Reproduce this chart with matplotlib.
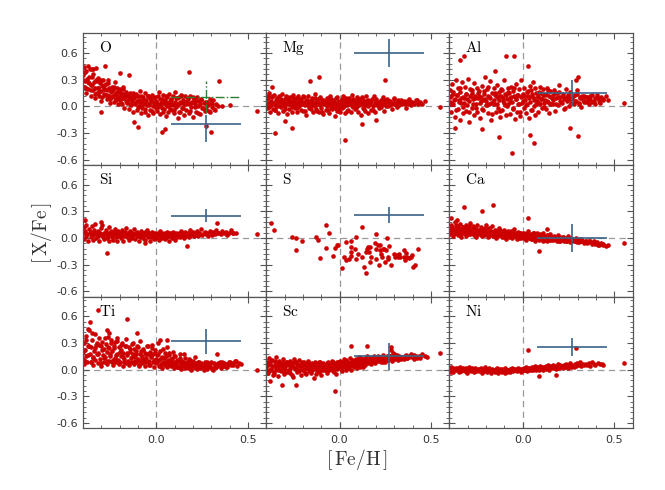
import numpy as np
import matplotlib
matplotlib.use('Agg')
import matplotlib.pyplot as plt
from matplotlib.ticker import MultipleLocator, FormatStrFormatter

plt.rcParams['mathtext.fontset'] = 'cm'
plt.rcParams['font.family'] = 'DejaVu Sans'

nan = float('nan')

# [Fe/H] of the common sample of stars
feh = [
    -0.399, -0.396, -0.392, -0.389, -0.385, -0.381, -0.378, -0.372, -0.368, -0.363,
    -0.359, -0.356, -0.351, -0.348, -0.344, -0.341, -0.337, -0.333, -0.328, -0.324,
    -0.319, -0.316, -0.312, -0.307, -0.304, -0.300, -0.296, -0.293, -0.288, -0.284,
    -0.279, -0.276, -0.271, -0.268, -0.264, -0.259, -0.256, -0.252, -0.247, -0.243,
    -0.239, -0.236, -0.232, -0.227, -0.224, -0.219, -0.216, -0.212, -0.208, -0.203,
    -0.199, -0.195, -0.192, -0.187, -0.184, -0.179, -0.176, -0.171, -0.168, -0.163,
    -0.159, -0.156, -0.151, -0.148, -0.143, -0.140, -0.135, -0.132, -0.127, -0.123,
    -0.119, -0.115, -0.112, -0.107, -0.104, -0.099, -0.096, -0.091, -0.088, -0.083,
    -0.079, -0.076, -0.071, -0.068, -0.063, -0.060, -0.055, -0.052, -0.047, -0.043,
    -0.039, -0.035, -0.032, -0.027, -0.024, -0.019, -0.016, -0.011, -0.008, -0.003,
    0.001, 0.005, 0.008, 0.013, 0.016, 0.021, 0.024, 0.029, 0.032, 0.037,
    0.041, 0.045, 0.048, 0.053, 0.056, 0.061, 0.064, 0.069, 0.072, 0.077,
    0.081, 0.085, 0.088, 0.093, 0.096, 0.101, 0.104, 0.109, 0.112, 0.117,
    0.121, 0.125, 0.129, 0.133, 0.137, 0.141, 0.145, 0.149, 0.153, 0.157,
    0.162, 0.167, 0.171, 0.176, 0.181, 0.186, 0.191, 0.196, 0.201, 0.206,
    0.212, 0.218, 0.224, 0.229, 0.235, 0.241, 0.246, 0.252, 0.258, 0.264,
    0.271, 0.278, 0.284, 0.291, 0.298, 0.305, 0.312, 0.319, 0.327, 0.335,
    0.343, 0.352, 0.361, 0.369, 0.378, 0.388, 0.397, 0.408, 0.421, 0.436,
]

# second group of stars
feh2 = [
    -0.398, -0.390, -0.383, -0.375, -0.366, -0.358, -0.350, -0.343, -0.335, -0.326,
    -0.318, -0.310, -0.302, -0.295, -0.286, -0.278, -0.270, -0.262, -0.254, -0.245,
    -0.238, -0.230, -0.222, -0.214, -0.206, -0.197, -0.190, -0.182, -0.174, -0.166,
    -0.158, -0.150, -0.142, -0.134, -0.126, -0.118, -0.110, -0.102, -0.094, -0.086,
    -0.078, -0.070, -0.062, -0.054, -0.046, -0.038, -0.030, -0.022, -0.014, -0.006,
    0.003, 0.011, 0.019, 0.027, 0.035, 0.043, 0.051, 0.059, 0.067, 0.075,
    0.083, 0.091, 0.099, 0.107, 0.115, 0.123, 0.131, 0.139, 0.147, 0.155,
    0.164, 0.173, 0.182, 0.191, 0.200, 0.209, 0.218, 0.227, 0.236, 0.245,
    0.255, 0.265, 0.275, 0.285, 0.295, 0.305, 0.315, 0.325, 0.336, 0.347,
    0.358, 0.369, 0.380, 0.392, 0.404, 0.416, 0.428, 0.440, 0.452, 0.465,
]

o_fe = [
    0.35, 0.22, 0.44, 0.28, 0.15, 0.40, 0.31, 0.19, 0.26, 0.42,
    0.24, 0.12, 0.33, 0.18, 0.42, 0.27, 0.09, 0.21, 0.30, 0.15,
    0.20, 0.32, 0.11, 0.26, 0.17, 0.06, 0.23, 0.29, 0.14, 0.19,
    0.13, 0.25, 0.08, 0.18, 0.30, 0.11, 0.21, 0.04, 0.16, 0.22,
    0.10, 0.18, 0.05, 0.27, 0.14, 0.08, 0.20, 0.12, 0.02, 0.16,
    0.07, 0.15, 0.11, 0.02, 0.19, 0.09, -0.02, 0.13, 0.06, 0.16,
    0.04, 0.12, -0.03, 0.08, 0.15, 0.01, 0.10, 0.06, -0.06, 0.13,
    0.09, 0.02, 0.14, -0.04, 0.06, 0.11, 0.00, 0.17, 0.04, -0.08,
    0.05, -0.02, 0.10, 0.03, 0.15, -0.06, 0.07, 0.01, 0.12, -0.10,
    0.02, 0.09, -0.04, 0.06, 0.13, 0.00, -0.08, 0.04, 0.10, -0.02,
    0.06, -0.05, 0.11, 0.01, 0.16, -0.09, 0.04, 0.08, -0.02, 0.13,
    -0.03, 0.07, 0.02, -0.11, 0.10, 0.04, -0.06, 0.14, 0.00, 0.05,
    0.08, -0.04, 0.03, 0.12, -0.08, 0.05, 0.16, -0.01, 0.09, -0.13,
    0.01, 0.10, -0.06, 0.04, 0.13, -0.02, 0.07, -0.10, 0.03, 0.11,
    -0.04, 0.06, 0.09, -0.08, 0.02, 0.12, -0.01, 0.05, -0.12, 0.08,
    0.03, -0.06, 0.10, 0.00, 0.06, -0.09, 0.08, -0.02, 0.04, -0.05,
    -0.03, 0.05, 0.01, -0.07, 0.04, -0.01, 0.07, -0.04, 0.02, 0.00,
    nan, nan, nan, nan, nan, nan, nan, nan, nan, nan,
]
o_fe2 = [
    0.30, 0.38, 0.20, 0.27, 0.33, 0.18, 0.24, 0.36, 0.14, 0.28,
    0.21, 0.16, 0.29, 0.10, 0.24, 0.19, 0.13, 0.26, 0.08, 0.17,
    0.12, 0.22, 0.07, 0.16, 0.10, 0.19, 0.04, 0.14, 0.09, 0.12,
    0.06, 0.13, 0.02, 0.09, 0.15, 0.04, 0.11, -0.01, 0.07, 0.12,
    0.03, 0.08, -0.03, 0.05, 0.11, 0.01, 0.06, -0.05, 0.09, 0.02,
    0.04, -0.01, 0.08, 0.02, -0.06, 0.06, 0.11, 0.00, 0.05, -0.03,
    0.07, 0.01, -0.04, 0.09, 0.03, -0.07, 0.05, 0.12, -0.02, 0.04,
    0.02, 0.08, -0.05, 0.04, 0.10, -0.01, 0.06, -0.08, 0.03, 0.07,
    -0.02, 0.05, 0.01, -0.05, 0.08, 0.02, -0.03, nan, nan, nan,
    nan, nan, nan, nan, nan, nan, nan, nan, nan, nan,
]

mg_fe = [
    0.08, -0.02, 0.12, 0.03, 0.15, -0.06, 0.05, 0.01, 0.10, -0.03,
    0.04, 0.13, -0.04, 0.07, 0.00, 0.09, -0.08, 0.02, 0.11, 0.05,
    -0.01, 0.06, 0.14, -0.05, 0.03, 0.08, 0.00, 0.12, -0.09, 0.04,
    0.07, -0.03, 0.02, 0.10, 0.05, -0.06, 0.13, 0.01, 0.06, -0.02,
    0.03, 0.09, -0.07, 0.04, 0.11, 0.00, 0.06, -0.04, 0.08, 0.02,
    -0.05, 0.05, 0.10, 0.01, -0.10, 0.07, 0.03, 0.12, -0.02, 0.04,
    0.06, -0.03, 0.02, 0.09, -0.07, 0.04, 0.14, 0.00, 0.05, -0.05,
    0.03, 0.08, -0.06, 0.01, 0.10, -0.02, 0.05, 0.07, -0.09, 0.02,
    0.04, -0.04, 0.09, 0.00, 0.06, -0.08, 0.03, 0.11, -0.01, 0.05,
    -0.03, 0.07, 0.02, -0.11, 0.04, 0.09, -0.05, 0.01, 0.06, -0.02,
    0.05, -0.06, 0.03, 0.08, -0.02, 0.12, 0.00, -0.08, 0.04, 0.07,
    0.01, 0.06, -0.04, 0.09, 0.03, -0.07, 0.05, 0.13, -0.01, 0.02,
    0.07, -0.03, 0.04, 0.00, 0.10, -0.06, 0.02, 0.08, 0.05, -0.10,
    0.03, 0.09, -0.02, 0.06, 0.01, -0.05, 0.11, 0.04, -0.08, 0.07,
    0.02, 0.05, -0.04, 0.08, 0.00, 0.12, 0.03, -0.06, 0.06, 0.01,
    0.04, -0.02, 0.07, 0.02, 0.10, -0.05, 0.05, 0.00, 0.08, 0.03,
    0.06, 0.01, -0.03, 0.04, 0.09, 0.02, -0.01, 0.07, 0.03, 0.05,
    0.02, 0.06, -0.02, 0.04, 0.08, 0.01, 0.05, 0.03, 0.07, 0.04,
]
mg_fe2 = [
    0.03, 0.09, -0.01, 0.06, 0.11, 0.02, -0.04, 0.07, 0.00, 0.04,
    0.08, 0.01, 0.05, -0.03, 0.10, 0.03, 0.06, -0.01, 0.09, 0.02,
    0.05, -0.02, 0.08, 0.02, 0.04, 0.11, -0.05, 0.06, 0.01, 0.03,
    0.00, 0.07, 0.03, 0.09, -0.03, 0.05, 0.02, 0.08, -0.06, 0.04,
    0.06, 0.01, -0.04, 0.03, 0.08, 0.00, 0.05, -0.02, 0.10, 0.02,
    0.03, 0.07, -0.01, 0.04, 0.09, -0.05, 0.02, 0.06, 0.00, 0.08,
    0.04, -0.02, 0.07, 0.01, 0.05, 0.10, -0.03, 0.03, 0.06, 0.00,
    0.02, 0.06, -0.04, 0.04, 0.08, 0.01, 0.05, -0.01, 0.03, 0.07,
    0.04, 0.00, 0.06, 0.02, 0.08, 0.03, 0.05, 0.01, 0.07, 0.04,
    0.03, 0.06, 0.02, 0.05, 0.04, 0.07, 0.03, 0.05, 0.02, 0.06,
]

al_fe = [
    0.05, 0.18, -0.06, 0.11, 0.25, 0.02, 0.14, -0.12, 0.08, 0.30,
    0.13, -0.03, 0.21, 0.07, -0.15, 0.16, 0.04, 0.27, 0.10, -0.08,
    0.09, 0.22, -0.05, 0.14, 0.01, 0.31, 0.06, -0.18, 0.19, 0.11,
    -0.02, 0.15, 0.08, 0.26, -0.10, 0.12, 0.03, 0.20, -0.06, 0.09,
    0.17, 0.04, -0.13, 0.10, 0.23, 0.07, -0.04, 0.14, 0.33, 0.01,
    0.06, 0.19, -0.08, 0.12, 0.02, 0.28, 0.09, -0.16, 0.15, 0.05,
    0.21, 0.03, 0.13, -0.07, 0.10, 0.24, -0.02, 0.16, 0.07, -0.12,
    0.11, -0.04, 0.18, 0.06, 0.29, 0.01, 0.14, -0.10, 0.08, 0.20,
    0.02, 0.15, -0.09, 0.09, 0.22, 0.05, -0.03, 0.17, 0.12, -0.14,
    0.08, 0.25, -0.06, 0.13, 0.03, 0.19, -0.11, 0.10, 0.30, 0.04,
    0.14, -0.02, 0.21, 0.07, -0.08, 0.16, 0.02, 0.11, -0.13, 0.23,
    0.05, 0.18, -0.04, 0.12, 0.27, 0.00, 0.09, -0.10, 0.15, 0.06,
    0.10, -0.06, 0.16, 0.03, 0.22, 0.08, -0.02, 0.13, 0.19, 0.04,
    0.07, 0.14, -0.03, 0.20, 0.05, 0.11, -0.08, 0.17, 0.02, 0.09,
    0.12, 0.03, 0.18, -0.05, 0.09, 0.15, 0.01, 0.24, 0.06, 0.10,
    0.04, 0.14, 0.08, -0.02, 0.19, 0.06, 0.11, 0.00, 0.16, 0.08,
    0.09, 0.02, 0.13, 0.06, 0.18, 0.04, 0.10, -0.01, 0.07, 0.12,
    0.05, 0.10, 0.03, 0.08, 0.13, 0.06, 0.02, 0.09, 0.04, 0.07,
]
al_fe2 = [
    0.10, 0.02, 0.16, 0.07, -0.04, 0.13, 0.05, 0.20, 0.09, -0.01,
    0.04, 0.14, 0.08, -0.07, 0.11, 0.18, 0.03, 0.09, -0.02, 0.15,
    0.12, 0.06, -0.03, 0.17, 0.08, 0.01, 0.22, 0.10, 0.04, -0.09,
    0.07, 0.15, 0.02, 0.11, -0.05, 0.19, 0.09, 0.04, 0.13, 0.00,
    0.16, 0.05, 0.10, -0.02, 0.21, 0.08, 0.13, 0.03, -0.07, 0.11,
    0.06, 0.12, 0.01, 0.17, 0.09, -0.04, 0.14, 0.07, 0.20, 0.03,
    0.11, 0.04, 0.15, 0.08, -0.01, 0.13, 0.06, 0.18, 0.02, 0.10,
    0.07, 0.14, 0.03, 0.10, 0.16, 0.05, 0.12, -0.03, 0.09, 0.13,
    0.08, 0.04, 0.11, 0.06, 0.14, 0.02, 0.09, 0.12, 0.05, 0.10,
    0.07, 0.11, 0.05, 0.09, 0.13, 0.06, 0.10, 0.08, 0.12, 0.07,
]

si_fe = [
    0.05, 0.12, -0.01, 0.08, 0.02, 0.15, 0.04, -0.03, 0.10, 0.06,
    0.01, 0.07, 0.13, 0.03, -0.02, 0.09, 0.05, 0.16, 0.00, 0.04,
    0.08, 0.02, -0.04, 0.06, 0.11, 0.03, 0.14, 0.01, 0.05, -0.01,
    0.04, 0.09, 0.00, 0.06, 0.02, 0.12, -0.03, 0.05, 0.08, 0.01,
    0.03, -0.02, 0.07, 0.04, 0.10, 0.01, 0.05, -0.04, 0.08, 0.02,
    0.06, 0.00, 0.03, 0.09, -0.03, 0.05, 0.02, 0.07, 0.04, 0.11,
    0.01, 0.05, -0.02, 0.04, 0.08, 0.02, 0.06, 0.00, 0.03, 0.10,
    0.04, -0.01, 0.06, 0.02, 0.07, 0.03, -0.04, 0.05, 0.01, 0.08,
    0.02, 0.06, 0.00, 0.04, -0.02, 0.07, 0.03, 0.09, 0.01, 0.05,
    0.03, -0.03, 0.05, 0.01, 0.07, 0.02, 0.04, -0.01, 0.06, 0.00,
    0.04, 0.01, 0.06, -0.02, 0.03, 0.08, 0.02, 0.05, 0.00, 0.03,
    0.02, 0.05, -0.01, 0.04, 0.07, 0.01, 0.03, 0.06, -0.03, 0.02,
    0.05, 0.00, 0.03, 0.07, 0.02, 0.04, -0.02, 0.06, 0.01, 0.03,
    0.03, 0.06, 0.01, 0.04, 0.08, 0.02, 0.05, 0.00, 0.03, 0.07,
    0.04, 0.02, 0.06, 0.01, 0.05, 0.09, 0.03, 0.04, 0.07, 0.02,
    0.05, 0.03, 0.08, 0.02, 0.06, 0.04, 0.10, 0.03, 0.05, 0.07,
    0.04, 0.06, 0.02, 0.08, 0.05, 0.03, 0.07, 0.04, 0.09, 0.05,
    0.06, 0.04, 0.08, 0.05, 0.07, 0.03, 0.06, 0.09, 0.05, 0.06,
]

ca_fe = [
    0.10, 0.04, 0.15, 0.07, 0.12, 0.02, 0.09, 0.18, 0.05, 0.11,
    0.08, 0.13, 0.03, 0.10, 0.06, 0.16, 0.01, 0.09, 0.12, 0.05,
    0.11, 0.06, 0.14, 0.02, 0.08, 0.12, 0.04, 0.10, 0.17, 0.07,
    0.05, 0.09, 0.13, 0.03, 0.07, 0.11, 0.01, 0.08, 0.15, 0.06,
    0.09, 0.04, 0.07, 0.12, 0.02, 0.06, 0.10, 0.03, 0.08, 0.14,
    0.05, 0.08, 0.01, 0.06, 0.11, 0.03, 0.07, 0.04, 0.13, 0.02,
    0.06, 0.03, 0.09, 0.00, 0.05, 0.08, 0.02, 0.11, 0.04, 0.06,
    0.03, 0.07, 0.01, 0.05, 0.09, 0.02, 0.06, -0.01, 0.04, 0.08,
    0.04, 0.01, 0.06, 0.03, 0.08, 0.00, 0.05, 0.02, 0.10, 0.03,
    0.02, 0.05, -0.01, 0.03, 0.07, 0.01, 0.04, 0.00, 0.06, 0.02,
    0.03, 0.00, 0.05, 0.01, -0.02, 0.04, 0.02, 0.08, 0.00, 0.03,
    0.01, 0.04, -0.01, 0.02, 0.06, 0.00, 0.03, -0.03, 0.01, 0.05,
    0.00, 0.03, -0.02, 0.01, 0.04, -0.01, 0.02, -0.03, 0.05, 0.00,
    -0.01, 0.02, 0.00, -0.03, 0.03, 0.01, -0.02, 0.04, 0.00, -0.01,
    0.01, -0.02, 0.02, -0.01, 0.00, -0.04, 0.03, -0.02, 0.01, -0.03,
    -0.02, 0.01, -0.03, 0.00, -0.01, -0.04, 0.02, -0.02, -0.05, 0.00,
    -0.03, -0.01, -0.04, 0.00, -0.02, -0.05, -0.03, -0.01, -0.04, -0.06,
    -0.04, -0.06, -0.03, -0.05, -0.07, -0.04, -0.06, -0.08, -0.07, -0.08,
]
ca_fe2 = [
    0.07, 0.12, 0.04, 0.09, 0.14, 0.06, 0.10, 0.03, 0.08, 0.12,
    0.05, 0.10, 0.07, 0.13, 0.04, 0.08, 0.11, 0.06, 0.02, 0.09,
    0.06, 0.03, 0.09, 0.05, 0.11, 0.04, 0.07, 0.02, 0.08, 0.05,
    0.04, 0.07, 0.02, 0.05, 0.09, 0.03, 0.06, 0.01, 0.04, 0.07,
    0.03, 0.05, 0.01, 0.04, 0.06, 0.02, 0.03, 0.00, 0.05, 0.02,
    0.02, 0.00, 0.04, 0.01, 0.03, -0.01, 0.02, 0.05, 0.00, 0.01,
    0.01, -0.01, 0.02, 0.00, -0.02, 0.01, 0.03, -0.01, 0.00, -0.02,
    -0.01, 0.01, -0.02, 0.00, -0.03, -0.01, 0.01, -0.02, -0.04, 0.00,
    -0.02, -0.04, -0.01, -0.03, -0.05, -0.02, -0.04, -0.03, -0.05, -0.04,
    -0.05, -0.04, -0.06, -0.07, -0.05, -0.08, -0.06, -0.07, -0.09, -0.08,
]

ti_fe = [
    0.12, 0.30, 0.06, 0.22, 0.38, 0.15, 0.09, 0.27, 0.45, 0.18,
    0.25, 0.08, 0.33, 0.14, 0.05, 0.21, 0.40, 0.11, 0.28, 0.17,
    0.07, 0.19, 0.35, 0.12, 0.26, 0.04, 0.31, 0.16, 0.09, 0.23,
    0.14, 0.29, 0.06, 0.20, 0.37, 0.10, 0.24, 0.15, 0.33, 0.08,
    0.21, 0.05, 0.27, 0.13, 0.31, 0.09, 0.18, 0.36, 0.11, 0.25,
    0.08, 0.22, 0.15, 0.30, 0.04, 0.19, 0.12, 0.27, 0.07, 0.34,
    0.16, 0.10, 0.25, 0.05, 0.20, 0.13, 0.29, 0.08, 0.18, 0.23,
    0.06, 0.14, 0.21, 0.09, 0.27, 0.12, 0.04, 0.18, 0.32, 0.10,
    0.15, 0.07, 0.23, 0.11, 0.04, 0.19, 0.13, 0.26, 0.08, 0.17,
    0.10, 0.20, 0.05, 0.14, 0.28, 0.08, 0.17, 0.03, 0.22, 0.12,
    0.07, 0.16, 0.30, 0.04, 0.11, 0.21, 0.06, 0.14, 0.02, 0.09,
    0.13, 0.05, 0.19, 0.08, 0.25, 0.03, 0.11, 0.16, 0.06, 0.10,
    0.04, 0.12, 0.07, 0.20, 0.02, 0.09, 0.15, 0.05, 0.11, 0.03,
    0.08, 0.03, 0.13, 0.06, 0.01, 0.10, 0.04, 0.17, 0.07, 0.02,
    0.05, 0.09, 0.02, 0.12, 0.04, 0.07, 0.00, 0.06, 0.10, 0.03,
    0.03, 0.07, 0.01, 0.05, 0.09, 0.02, 0.06, 0.04, 0.00, 0.08,
    0.04, 0.01, 0.06, 0.03, 0.08, 0.02, -0.01, 0.05, 0.03, 0.07,
    0.05, 0.02, 0.08, 0.04, 0.06, 0.03, 0.09, 0.05, 0.07, 0.10,
]
ti_fe2 = [
    0.20, 0.10, 0.33, 0.16, 0.26, 0.08, 0.41, 0.13, 0.24, 0.30,
    0.18, 0.28, 0.07, 0.22, 0.13, 0.35, 0.10, 0.25, 0.17, 0.30,
    0.11, 0.24, 0.16, 0.32, 0.06, 0.20, 0.28, 0.14, 0.09, 0.26,
    0.19, 0.07, 0.23, 0.14, 0.30, 0.10, 0.17, 0.25, 0.05, 0.21,
    0.13, 0.22, 0.08, 0.18, 0.27, 0.05, 0.15, 0.24, 0.11, 0.19,
    0.09, 0.17, 0.04, 0.13, 0.23, 0.07, 0.15, 0.10, 0.19, 0.06,
    0.12, 0.05, 0.15, 0.08, 0.03, 0.11, 0.18, 0.06, 0.09, 0.13,
    0.04, 0.08, 0.11, 0.02, 0.06, 0.14, 0.05, 0.09, 0.03, 0.07,
    0.05, 0.02, 0.08, 0.04, 0.06, 0.01, 0.07, 0.03, 0.05, 0.09,
    0.04, 0.07, 0.03, 0.06, 0.08, 0.05, 0.09, 0.04, 0.07, 0.06,
]

sc_fe = [
    0.02, 0.09, -0.04, 0.05, 0.13, -0.01, 0.07, 0.00, 0.11, -0.06,
    0.04, -0.03, 0.08, 0.01, 0.14, 0.06, -0.07, 0.03, 0.10, 0.00,
    -0.02, 0.07, 0.03, 0.12, -0.05, 0.05, 0.01, 0.09, -0.03, 0.06,
    0.05, 0.00, 0.10, -0.04, 0.03, 0.07, -0.08, 0.04, 0.12, 0.01,
    0.02, 0.08, -0.03, 0.05, 0.00, 0.11, 0.04, -0.06, 0.06, 0.02,
    -0.01, 0.05, 0.09, 0.01, -0.05, 0.06, 0.03, 0.10, -0.02, 0.04,
    0.03, -0.04, 0.07, 0.00, 0.05, -0.09, 0.02, 0.08, 0.04, -0.02,
    0.06, 0.01, -0.03, 0.04, 0.09, -0.06, 0.03, 0.00, 0.07, 0.02,
    0.00, 0.05, 0.02, -0.04, 0.08, 0.03, -0.01, 0.06, 0.01, 0.10,
    0.04, -0.02, 0.07, 0.02, 0.05, -0.05, 0.09, 0.01, 0.03, 0.06,
    0.05, 0.10, 0.01, 0.07, -0.02, 0.04, 0.12, 0.03, 0.08, 0.00,
    0.06, 0.02, 0.09, 0.04, 0.13, 0.00, 0.07, 0.05, 0.11, 0.03,
    0.08, 0.04, 0.12, 0.02, 0.07, 0.10, 0.05, 0.14, 0.03, 0.09,
    0.06, 0.11, 0.03, 0.09, 0.13, 0.05, 0.08, 0.15, 0.07, 0.10,
    0.09, 0.13, 0.06, 0.11, 0.08, 0.15, 0.10, 0.07, 0.12, 0.14,
    0.10, 0.14, 0.08, 0.12, 0.16, 0.11, 0.09, 0.13, 0.15, 0.11,
    0.12, 0.15, 0.10, 0.14, 0.17, 0.12, 0.16, 0.11, 0.14, 0.13,
    0.14, 0.12, 0.16, 0.13, 0.15, 0.17, 0.14, 0.16, 0.13, 0.15,
]
sc_fe2 = [
    0.05, -0.02, 0.08, 0.01, 0.04, -0.05, 0.10, 0.03, -0.01, 0.06,
    0.02, 0.07, -0.03, 0.04, 0.09, 0.00, 0.05, -0.06, 0.03, 0.08,
    0.01, 0.06, -0.02, 0.04, 0.08, 0.00, -0.04, 0.05, 0.02, 0.07,
    0.03, -0.01, 0.06, 0.02, -0.05, 0.04, 0.08, 0.00, 0.05, 0.01,
    0.04, 0.07, 0.00, 0.05, 0.02, 0.09, -0.03, 0.06, 0.03, 0.08,
    0.06, 0.03, 0.09, 0.05, 0.11, 0.02, 0.07, 0.04, 0.10, 0.06,
    0.08, 0.05, 0.11, 0.07, 0.13, 0.09, 0.06, 0.12, 0.10, 0.08,
    0.11, 0.09, 0.14, 0.10, 0.12, 0.15, 0.11, 0.13, 0.09, 0.14,
    0.13, 0.11, 0.15, 0.12, 0.14, 0.16, 0.13, 0.15, 0.12, 0.14,
    0.15, 0.13, 0.14, 0.16, 0.12, 0.15, 0.14, 0.13, 0.16, 0.15,
]

ni_fe = [
    0.01, -0.02, 0.03, 0.00, -0.01, 0.02, -0.03, 0.01, 0.00, 0.02,
    -0.01, 0.02, 0.00, -0.03, 0.01, 0.03, -0.02, 0.00, 0.02, -0.01,
    0.00, -0.02, 0.02, 0.01, -0.04, 0.00, 0.03, -0.01, 0.01, -0.02,
    0.02, -0.01, 0.00, -0.03, 0.01, 0.02, -0.02, 0.00, -0.01, 0.01,
    -0.02, 0.01, -0.01, 0.02, -0.04, 0.00, 0.01, -0.02, 0.03, -0.01,
    0.00, -0.03, 0.01, -0.01, 0.02, -0.02, 0.00, -0.04, 0.01, -0.01,
    -0.02, 0.00, -0.03, 0.01, -0.01, 0.02, -0.04, 0.00, -0.02, 0.01,
    -0.01, -0.03, 0.01, -0.02, 0.00, -0.04, 0.02, -0.01, -0.03, 0.00,
    0.00, -0.02, 0.01, -0.03, 0.00, 0.02, -0.01, -0.02, 0.01, 0.00,
    -0.01, 0.01, -0.02, 0.00, 0.02, -0.01, 0.01, -0.03, 0.00, 0.01,
    0.01, -0.01, 0.02, 0.00, 0.03, -0.02, 0.01, 0.02, 0.00, 0.01,
    0.02, 0.00, 0.01, 0.03, -0.01, 0.02, 0.01, 0.04, 0.00, 0.02,
    0.01, 0.03, 0.00, 0.02, 0.04, 0.01, 0.03, -0.01, 0.02, 0.03,
    0.02, 0.04, 0.01, 0.03, 0.05, 0.02, 0.00, 0.03, 0.04, 0.02,
    0.03, 0.05, 0.02, 0.04, 0.01, 0.03, 0.06, 0.02, 0.04, 0.05,
    0.04, 0.02, 0.05, 0.03, 0.06, 0.04, 0.02, 0.05, 0.07, 0.03,
    0.05, 0.03, 0.06, 0.04, 0.07, 0.05, 0.08, 0.04, 0.06, 0.05,
    0.06, 0.05, 0.07, 0.04, 0.08, 0.06, 0.05, 0.07, 0.06, 0.05,
]

# stars outside the main band, read separately per element
o_extra_x = [-0.37, -0.35, -0.33, -0.28, -0.30, -0.20, -0.15, -0.10, 0.03, 0.05,
             0.27, 0.30, 0.18, 0.34, 0.55, -0.12, 0.40, 0.36, -0.18]
o_extra_y = [0.45, 0.42, 0.43, 0.45, -0.07, 0.37, 0.35, -0.23, -0.29, -0.26,
             -0.22, -0.29, 0.39, 0.28, -0.05, -0.18, 0.01, 0.00, 0.22]
mg_extra_x = [-0.35, -0.26, -0.11, 0.03, 0.25, 0.55, -0.16, 0.12, -0.30, 0.20, -0.37]
mg_extra_y = [-0.30, -0.24, 0.33, -0.38, 0.30, -0.01, 0.28, -0.20, -0.17, -0.15, 0.22]
al_extra_x = [-0.06, 0.06, -0.34, -0.32, -0.09, -0.05, 0.03, 0.55, 0.30, -0.22,
              -0.13, 0.04, 0.30, 0.26, 0.29, -0.37, -0.15]
al_extra_y = [-0.52, -0.41, 0.52, 0.56, 0.57, 0.56, 0.45, 0.04, 0.33, -0.26,
              -0.34, -0.32, -0.33, -0.24, 0.30, -0.25, 0.40]
si_extra_x = [-0.27, 0.17, 0.33, 0.55, 0.42, -0.39, -0.30, -0.06]
si_extra_y = [-0.17, -0.09, 0.17, 0.04, 0.06, 0.20, 0.18, -0.06]
ca_extra_x = [-0.32, -0.22, -0.16, 0.03, 0.09, 0.55, 0.13, -0.39, -0.36]
ca_extra_y = [0.35, 0.30, 0.37, 0.22, -0.15, -0.06, 0.10, 0.22, 0.20]
ti_extra_x = [-0.32, -0.36, -0.16, 0.43, 0.33, 0.55, -0.105, -0.27, -0.26, -0.37, 0.02, 0.06]
ti_extra_y = [0.67, 0.53, 0.57, 0.10, 0.17, -0.01, 0.41, 0.44, 0.41, 0.46, 0.33, 0.33]
sc_extra_x = [0.06, 0.15, 0.283, 0.55, -0.027, -0.315, -0.235, -0.38, 0.45, 0.48, 0.28, 0.29]
sc_extra_y = [0.27, 0.26, 0.25, 0.19, -0.24, -0.17, -0.17, -0.13, 0.17, 0.14, 0.22, 0.19]
ni_extra_x = [0.03, 0.29, 0.55, 0.43, 0.09, 0.18, -0.39]
ni_extra_y = [0.22, 0.24, 0.075, 0.06, -0.075, -0.065, -0.03]

# sulphur: only a small subsample
s_x = [-0.375, -0.357, -0.257, -0.235, -0.235, -0.207, -0.127, -0.116, -0.107, -0.076,
       -0.076, -0.058, -0.036, -0.027, -0.016, -0.007, 0.011, 0.024, 0.033, 0.034,
       0.053, 0.062, 0.062, 0.062, 0.063, 0.083, 0.092, 0.092, 0.100, 0.121,
       0.121, 0.132, 0.143, 0.147, 0.150, 0.155, 0.163, 0.165, 0.168, 0.170,
       0.192, 0.200, 0.200, 0.200, 0.210, 0.214, 0.219, 0.223, 0.228, 0.232,
       0.235, 0.243, 0.246, 0.252, 0.260, 0.263, 0.266, 0.270, 0.281, 0.300,
       0.304, 0.313, 0.318, 0.324, 0.328, 0.350, 0.353, 0.360, 0.362, 0.368,
       0.378, 0.390, 0.398, 0.400, 0.410, 0.430]
s_y = [0.17, 0.09, 0.015, -0.003, -0.135, -0.03, 0.008, -0.02, -0.23, 0.14,
       -0.11, 0.05, -0.205, -0.116, -0.075, -0.08, -0.337, -0.21, -0.25, -0.05,
       -0.24, -0.03, -0.105, -0.157, -0.20, -0.127, 0.015, -0.235, -0.183, 0.12,
       -0.22, -0.326, -0.39, -0.157, -0.12, -0.105, -0.157, -0.105, -0.27, -0.22,
       -0.06, 0.04, -0.12, -0.24, -0.08, -0.30, -0.08, -0.135, -0.18, -0.22,
       -0.12, -0.13, -0.27, -0.135, 0.00, -0.24, -0.22, -0.09, -0.30, -0.18,
       -0.21, -0.19, -0.22, -0.18, -0.22, -0.135, -0.21, -0.245, -0.17, -0.22,
       -0.23, -0.22, -0.19, -0.33, -0.31, -0.12]

labels = ['O', 'Mg', 'Al', 'Si', 'S', 'Ca', 'Ti', 'Sc', 'Ni']
main_y = [o_fe, mg_fe, al_fe, si_fe, None, ca_fe, ti_fe, sc_fe, ni_fe]
second_y = [o_fe2, mg_fe2, al_fe2, None, None, ca_fe2, ti_fe2, sc_fe2, None]
extra_x = [o_extra_x, mg_extra_x, al_extra_x, si_extra_x, s_x, ca_extra_x, ti_extra_x, sc_extra_x, ni_extra_x]
extra_y = [o_extra_y, mg_extra_y, al_extra_y, si_extra_y, s_y, ca_extra_y, ti_extra_y, sc_extra_y, ni_extra_y]

# typical uncertainty crosses: centre y, lower / upper y error
err_x, err_dx = 0.27, 0.19
err_y = [-0.20, 0.60, 0.15, 0.25, 0.26, 0.00, 0.32, 0.15, 0.25]
err_lo = [0.20, 0.16, 0.15, 0.07, 0.09, 0.16, 0.14, 0.15, 0.10]
err_hi = [0.10, 0.16, 0.15, 0.07, 0.09, 0.16, 0.14, 0.15, 0.10]
o_alt_y, o_alt_dy = 0.10, 0.18

fig, axs = plt.subplots(3, 3, figsize=(6.65, 4.9), dpi=100, sharex=True, sharey=True)
fig.subplots_adjust(left=0.1248, right=0.9514, top=0.932, bottom=0.126, wspace=0, hspace=0)

red = '#cc0000'
blue = '#3b6487'
for i, ax in enumerate(axs.flat):
    ax.axhline(0, color='#999999', lw=0.9, dashes=(5, 3.5), zorder=1)
    ax.axvline(0, color='#999999', lw=0.9, dashes=(5, 3.5), zorder=1)
    if main_y[i] is not None:
        ax.scatter(feh, main_y[i], s=11, color=red, linewidths=0, zorder=2)
    if second_y[i] is not None:
        ax.scatter(feh2, second_y[i], s=11, color=red, linewidths=0, zorder=2)
    ax.scatter(extra_x[i], extra_y[i], s=11, color=red, linewidths=0, zorder=2)
    ax.errorbar([err_x], [err_y[i]], xerr=err_dx, yerr=[[err_lo[i]], [err_hi[i]]],
                fmt='none', ecolor=blue, elinewidth=1.2, capsize=0, zorder=3)
    if labels[i] == 'O':
        eb = ax.errorbar([err_x], [o_alt_y], xerr=err_dx, yerr=o_alt_dy, fmt='none',
                         ecolor='#2e7d32', elinewidth=1.0, capsize=0, zorder=3)
        for c in eb[2]:
            c.set_linestyle('-.')
    ax.text(0.085, 0.89, r'$\mathrm{%s}$' % labels[i], transform=ax.transAxes,
            fontsize=11, ha='left', va='center')
    ax.set_xlim(-0.4, 0.6)
    ax.set_ylim(-0.66, 0.82)
    ax.xaxis.set_major_locator(MultipleLocator(0.5))
    ax.xaxis.set_minor_locator(MultipleLocator(0.1))
    ax.yaxis.set_major_locator(MultipleLocator(0.3))
    ax.yaxis.set_minor_locator(MultipleLocator(0.06))
    ax.xaxis.set_major_formatter(FormatStrFormatter('%.1f'))
    ax.yaxis.set_major_formatter(FormatStrFormatter('%.1f'))
    ax.tick_params(which='both', direction='in', top=True, right=True,
                   color='#555555', labelsize=8, labelcolor='#333333')
    ax.tick_params(which='major', length=4, width=0.8)
    ax.tick_params(which='minor', length=2.2, width=0.6)
    ax.tick_params(axis='x', pad=5)
    for sp in ax.spines.values():
        sp.set_color('#555555')
        sp.set_linewidth(0.9)

fig.text(0.063, 0.525, r'$[\,\mathrm{X/Fe}\,]$', rotation=90, fontsize=14,
         ha='center', va='center', color='#333333')
fig.text(0.537, 0.062, r'$[\,\mathrm{Fe/H}\,]$', fontsize=14,
         ha='center', va='center', color='#333333')

plt.savefig('out.png', dpi=100)
